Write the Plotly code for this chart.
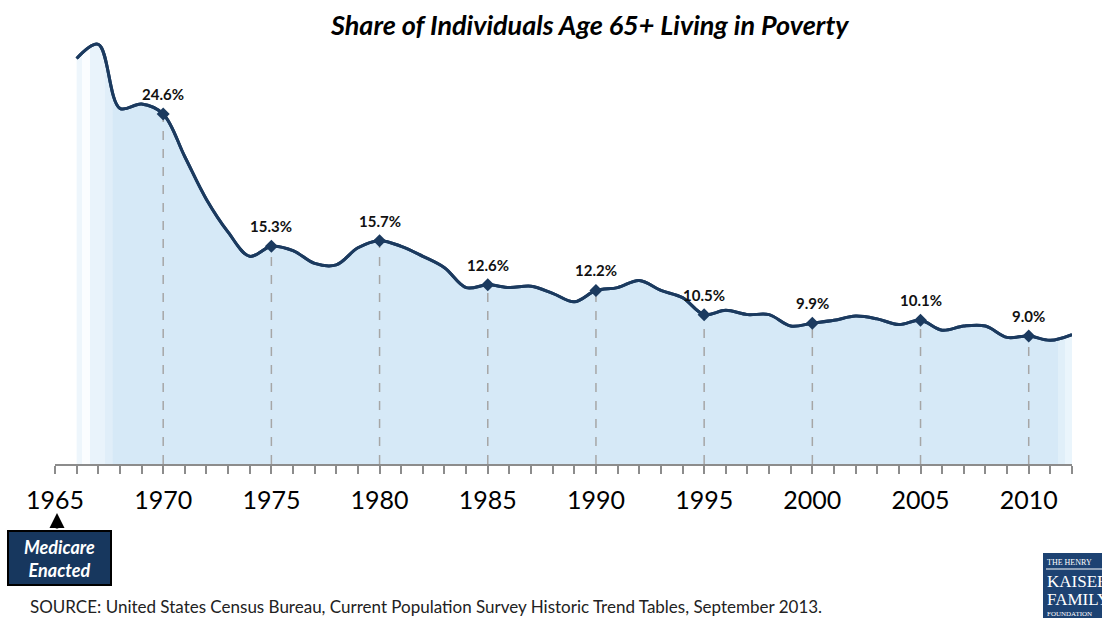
import plotly.graph_objects as go

years = list(range(1966, 2013))
poverty_rate = [28.5, 29.5, 25.0, 25.3, 24.6, 21.6, 18.6, 16.3, 14.6, 15.3,
                15.0, 14.1, 14.0, 15.2, 15.7, 15.3, 14.6, 13.8, 12.4, 12.6,
                12.4, 12.5, 12.0, 11.4, 12.2, 12.4, 12.9, 12.2, 11.7, 10.5,
                10.8, 10.5, 10.5, 9.7, 9.9, 10.1, 10.4, 10.2, 9.8, 10.1,
                9.4, 9.7, 9.7, 8.9, 9.0, 8.7, 9.1]
label_years = [1970, 1975, 1980, 1985, 1990, 1995, 2000, 2005, 2010]
tick_years = [1965, 1970, 1975, 1980, 1985, 1990, 1995, 2000, 2005, 2010]

NAVY = "#17375e"
LINE = "#1b3a5f"
FONT = "Lato, 'Open Sans', sans-serif"

lookup = dict(zip(years, poverty_rate))
label_vals = [lookup[y] for y in label_years]

fig = go.Figure()

# area + line
fig.add_trace(go.Scatter(
    x=years, y=poverty_rate, mode="lines",
    line=dict(color=LINE, width=3, shape="spline", smoothing=1.0),
    fill="tozeroy",
    fillgradient=dict(
        type="horizontal",
        colorscale=[
            [0.0, "#eef6fc"], [0.005, "#eef6fc"],
            [0.0051, "#fbfdff"], [0.013, "#fbfdff"],
            [0.0131, "#e9f3fb"], [0.028, "#e9f3fb"],
            [0.0281, "#e0eef9"], [0.036, "#e0eef9"],
            [0.0361, "#d6e9f7"], [0.986, "#d6e9f7"],
            [0.9861, "#e0eff9"], [0.993, "#e0eff9"],
            [0.9931, "#eaf5fc"], [1.0, "#eaf5fc"],
        ],
    ),
    hoverinfo="skip", showlegend=False,
))

# dashed drop lines
dx, dy = [], []
for yr, v in zip(label_years, label_vals):
    dx += [yr, yr, None]
    dy += [0, v, None]
fig.add_trace(go.Scatter(
    x=dx, y=dy, mode="lines",
    line=dict(color="#a6a6a6", width=1.5, dash="dash"),
    hoverinfo="skip", showlegend=False,
))

# redraw line on top of drop lines
fig.add_trace(go.Scatter(
    x=years, y=poverty_rate, mode="lines",
    line=dict(color=LINE, width=3, shape="spline", smoothing=1.0),
    hoverinfo="skip", showlegend=False,
))

# markers
fig.add_trace(go.Scatter(
    x=label_years, y=label_vals, mode="markers",
    marker=dict(symbol="diamond", size=10, color=LINE),
    hoverinfo="skip", showlegend=False,
))

for yr, v in zip(label_years, label_vals):
    fig.add_annotation(x=yr, y=v, text=f"<b>{v:.1f}%</b>", showarrow=False,
                       yshift=20, font=dict(family=FONT, size=15, color="#111"))

# title
fig.add_annotation(xref="paper", yref="paper", x=0.526, y=1, yshift=-1,
                   text="<b><i>Share of Individuals Age 65+ Living in Poverty</i></b>",
                   showarrow=False, xanchor="center", yanchor="middle",
                   font=dict(family=FONT, size=27, color="#000"))

# Medicare box
fig.add_shape(type="rect", xref="paper", yref="paper",
              x0=(8 - 55) / 1017, x1=(111 - 55) / 1017,
              y0=(464 - 585) / 441, y1=(464 - 531) / 441,
              fillcolor=NAVY, line=dict(color="#000", width=2))
fig.add_annotation(xref="paper", yref="paper", x=(59.5 - 55) / 1017,
                   y=(464 - 558) / 441,
                   text="<b><i>Medicare<br>Enacted</i></b>", showarrow=False,
                   font=dict(family=FONT, size=18, color="white"),
                   xanchor="center", yanchor="middle")
fig.add_annotation(xref="paper", yref="paper",
                   x=(57 - 55) / 1017, y=(464 - 513) / 441,
                   ax=0, ay=17, text="", showarrow=True,
                   arrowhead=2, arrowsize=1.2, arrowwidth=2.5, arrowcolor="#000")

# source
fig.add_annotation(xref="paper", yref="paper", x=(28 - 55) / 1017,
                   y=(464 - 606) / 441,
                   text="SOURCE: United States Census Bureau, Current Population Survey Historic Trend Tables, September 2013.",
                   showarrow=False, xanchor="left", yanchor="middle",
                   font=dict(family=FONT, size=17, color="#222"))

# logo
fig.add_shape(type="rect", xref="paper", yref="paper",
              x0=(1043 - 55) / 1017, x1=(1110 - 55) / 1017,
              y0=(464 - 625) / 441, y1=(464 - 553) / 441,
              fillcolor="#1d4272", line=dict(width=0))
SERIF = "'Liberation Serif', 'DejaVu Serif', serif"
for txt, yy, sz in [("THE HENRY", 562, 8), ("KAISER", 581, 17),
                    ("FAMILY", 599, 17), ("FOUNDATION", 614, 7)]:
    fig.add_annotation(xref="paper", yref="paper", x=(1045 - 55) / 1017,
                       y=(464 - yy) / 441, text=txt, showarrow=False,
                       xanchor="left", yanchor="middle",
                       font=dict(family=SERIF, size=sz, color="white"))
fig.add_shape(type="line", xref="paper", yref="paper",
              x0=(1046 - 55) / 1017, x1=(1110 - 55) / 1017,
              y0=(464 - 569) / 441, y1=(464 - 569) / 441,
              line=dict(color="white", width=1))

fig.update_layout(
    width=1102, height=618,
    margin=dict(l=55, r=30, t=23, b=154),
    plot_bgcolor="white", paper_bgcolor="white",
    xaxis=dict(range=[1965, 2012], tickvals=tick_years,
               ticktext=[str(t) for t in tick_years],
               showgrid=False, zeroline=False,
               showline=True, linecolor="#8c8c8c", linewidth=1.5,
               ticks="outside", ticklen=8, tickcolor="#8c8c8c", tickwidth=1.5,
               ticklabelstandoff=5,
               minor=dict(dtick=1, tick0=1965, ticks="outside", ticklen=8,
                          tickcolor="#8c8c8c", tickwidth=1.5),
               tickfont=dict(family=FONT, size=25, color="#000")),
    yaxis=dict(range=[0, 31], visible=False),
)

fig.write_html("out.html", config={"displayModeBar": False},
               post_script="document.body.style.margin='0';document.body.style.overflow='hidden';")
